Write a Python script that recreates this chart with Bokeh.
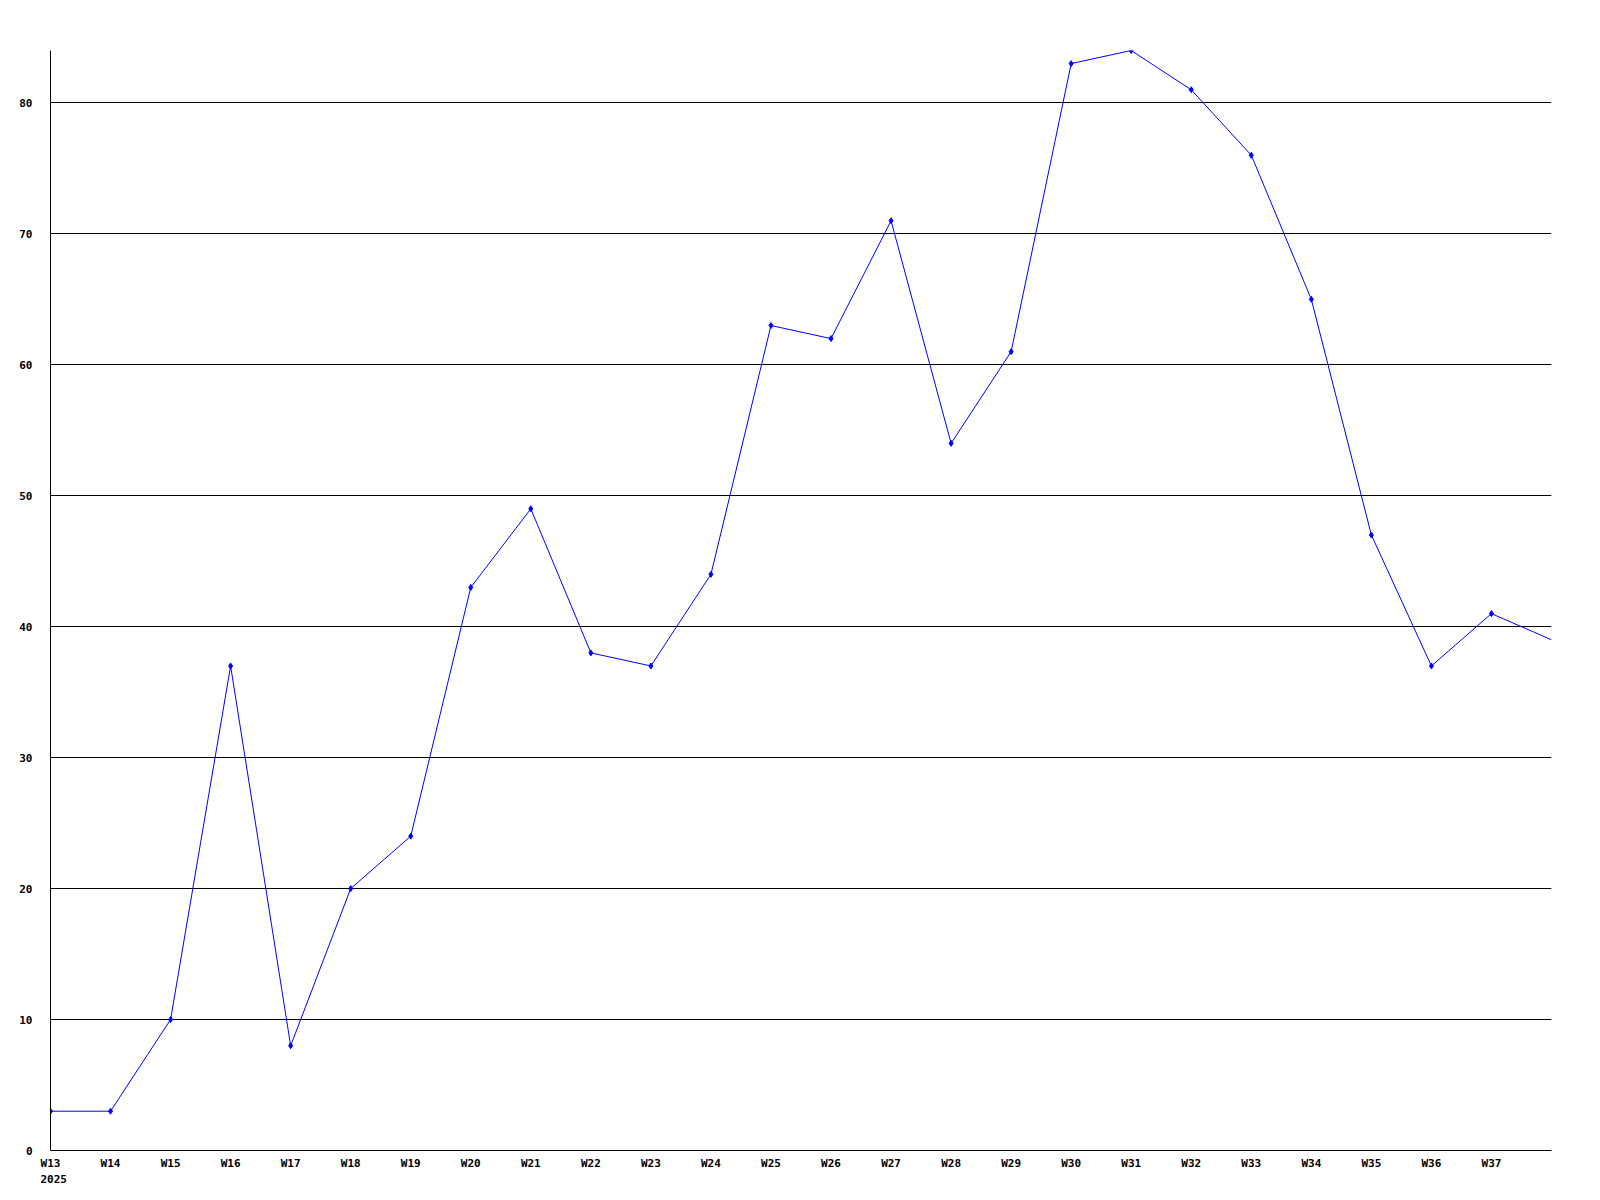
from bokeh.plotting import figure
from bokeh.models import Range1d, FixedTicker, Title
from bokeh.embed import file_html
from bokeh.resources import INLINE

weeks = ["W13", "W14", "W15", "W16", "W17", "W18", "W19", "W20", "W21", "W22",
         "W23", "W24", "W25", "W26", "W27", "W28", "W29", "W30", "W31", "W32",
         "W33", "W34", "W35", "W36", "W37", "W38"]
values = [3, 3, 10, 37, 8, 20, 24, 43, 49, 38,
          37, 44, 63, 62, 71, 54, 61, 83, 84, 81,
          76, 65, 47, 37, 41, 39]
tick_labels = weeks[:-1]
year_label = "2025"
y_ticks = [0, 10, 20, 30, 40, 50, 60, 70, 80]

xs = list(range(len(weeks)))

p = figure(width=1584, height=1195, output_backend="svg", toolbar_location=None,
           x_range=Range1d(0, len(weeks) - 1), y_range=Range1d(0, 84),
           min_border_left=50, min_border_right=33, min_border_top=50, min_border_bottom=45)
p.outline_line_color = None
p.background_fill_color = "white"
p.border_fill_color = "white"

p.line(xs, values, line_color="#0000ff", line_width=1)
p.scatter(xs[:-1], values[:-1], marker="diamond", size=6, fill_color="#0000ff", line_color="#0000ff")

font = "DejaVu Sans Mono"
p.xaxis.ticker = FixedTicker(ticks=xs[:-1])
p.xaxis.major_label_overrides = {i: t for i, t in enumerate(tick_labels)}
p.yaxis.ticker = FixedTicker(ticks=y_ticks)
for ax in (p.xaxis, p.yaxis):
    ax.major_tick_line_color = None
    ax.minor_tick_line_color = None
    ax.axis_line_color = "black"
    ax.axis_line_width = 1
    ax.major_label_text_font = font
    ax.major_label_text_font_style = "bold"
    ax.major_label_text_font_size = "11px"
    ax.major_label_text_color = "black"
p.xaxis.major_label_standoff = 0
p.yaxis.major_label_standoff = 12
p.yaxis.major_label_text_align = "left"

p.xgrid.grid_line_color = None
p.ygrid.ticker = FixedTicker(ticks=y_ticks[1:])
p.ygrid.grid_line_color = "black"
p.ygrid.grid_line_width = 1

p.add_layout(Title(text=year_label, text_font=font, text_font_style="bold",
                   text_font_size="11px", align="left", offset=-10,
                   standoff=0, text_color="black"), "below")

open("out.html", "w").write(file_html(p, INLINE))
